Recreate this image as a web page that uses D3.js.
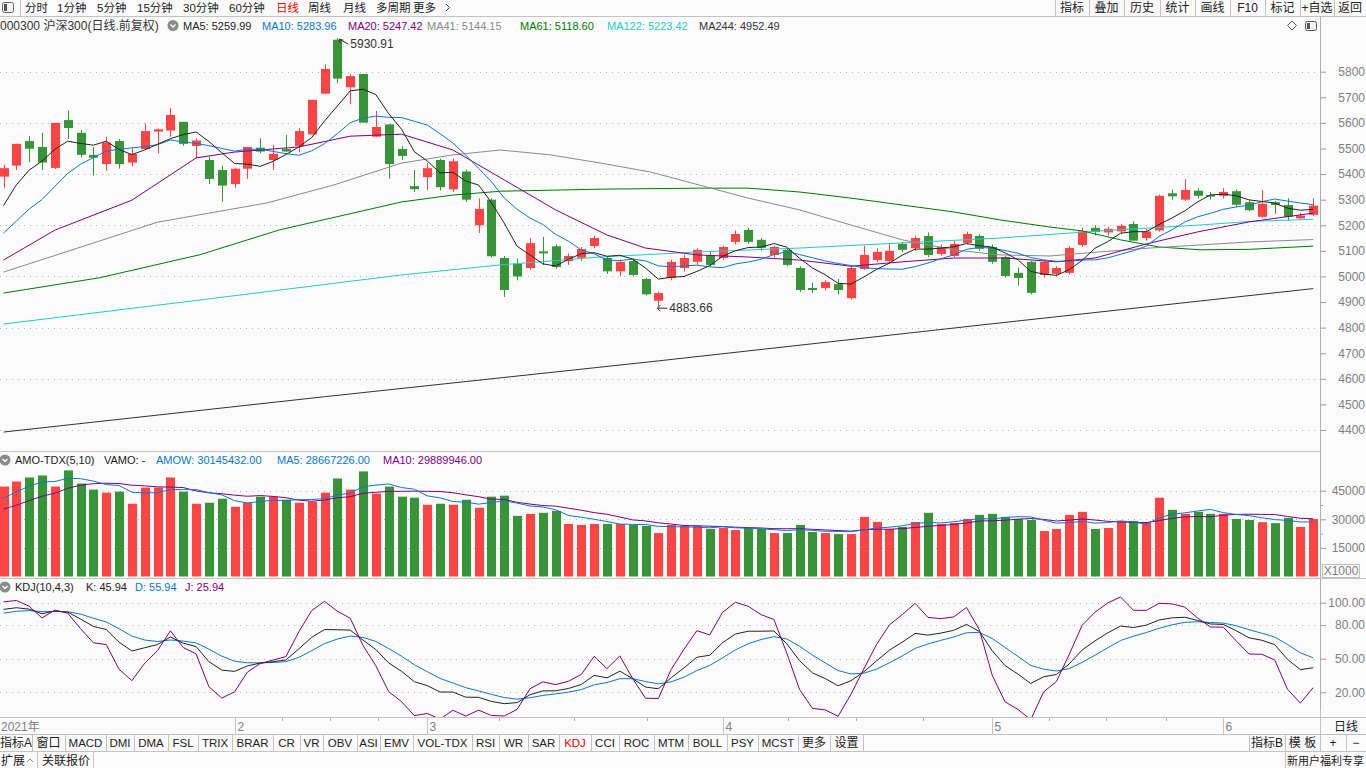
<!DOCTYPE html>
<html>
<head>
<meta charset="utf-8">
<script src="https://cdn.jsdelivr.net/npm/d3@7"></script>
<style>
body { margin: 0; background: #fbfbfb; overflow: hidden; }
svg text { font-family: "Liberation Sans", "Noto Sans CJK SC", sans-serif; font-size: 12px; }
</style>
</head>
<body>
<svg id="chart" width="1366" height="768"></svg>
<script>
// daily bars, 2021-01-06 .. 2021-06-10
var opens  = [5390,5433,5529,5506,5424,5611,5561,5475,5439,5529,5445,5498,5566,5570,5604,5510,5455,5416,5361,5421,
              5503,5455,5498,5510,5555,5714,5925,5739,5791,5546,5594,5498,5353,5388,5455,5340,5410,5200,5300,5072,
              5050,5033,5098,5118,5060,5073,5119,5072,5020,5060,4990,4905,4994,5033,5057,5084,5072,5135,5182,5143,
              5084,5104,5033,4955,4955,4970,4915,5029,5064,5060,5127,5110,5158,5088,5080,5131,5158,5115,5076,5014,
              5057,5006,5010,5014,5123,5190,5172,5176,5205,5150,5180,5325,5300,5335,5318,5315,5333,5290,5233,5290,
              5279,5227,5241];
var highs  = [5436,5518,5549,5561,5600,5648,5572,5505,5546,5537,5501,5597,5578,5658,5604,5540,5468,5433,5425,5506,
              5540,5514,5553,5579,5690,5828,5930.91,5791,5791,5647,5594,5509,5416,5443,5460,5460,5418,5305,5305,5080,
              5070,5150,5155,5125,5090,5115,5160,5080,5065,5070,4995,4940,5065,5085,5110,5095,5120,5180,5190,5150,
              5120,5110,5040,4975,4985,4990,5040,5120,5110,5130,5135,5160,5172,5125,5140,5175,5165,5125,5080,5035,
              5060,5065,5040,5118,5190,5200,5195,5205,5215,5185,5320,5340,5380,5345,5330,5345,5340,5297,5337,5295,
              5305,5248,5305];
var lows   = [5347,5416,5447,5416,5420,5537,5464,5394,5413,5421,5429,5498,5481,5546,5510,5462,5361,5292,5347,5382,
              5481,5416,5486,5484,5555,5714,5755,5673,5601,5546,5382,5455,5330,5337,5336,5330,5290,5170,5075,4920,
              4985,5025,5045,5030,5045,5060,5110,5010,5000,5000,4925,4883.66,4985,5020,5045,5040,5065,5125,5128,5100,
              5075,5040,4940,4935,4945,4930,4910,5025,5055,5055,5095,5100,5075,5080,5075,5125,5100,5050,4995,4965,
              4930,4995,4998,5008,5115,5160,5160,5165,5140,5140,5175,5300,5295,5305,5300,5305,5270,5255,5230,5245,
              5217,5223,5236];
var closes = [5423,5518,5499,5445,5600,5580,5475,5464,5523,5439,5479,5568,5575,5631,5518,5531,5381,5355,5421,5506,
              5488,5479,5488,5568,5690,5811,5773,5783,5601,5584,5439,5471,5341,5423,5349,5450,5300,5264,5079,4947,
              5000,5130,5090,5037,5080,5107,5150,5020,5057,5006,4930,4935,5057,5072,5104,5045,5115,5166,5135,5112,
              5115,5045,4947,4947,4978,4947,5033,5084,5096,5100,5104,5150,5084,5115,5127,5166,5108,5057,5002,4994,
              4936,5057,5033,5111,5176,5174,5186,5198,5140,5176,5315,5313,5338,5315,5312,5330,5280,5259,5284,5279,
              5233,5238,5277];
// turnover, x1000 yuan
var amounts = [47170,49820,51940,53000,47170,55650,48760,45580,43990,44520,38160,46640,46640,51940,44520,38160,38690,40810,36570,38690,
               41870,41870,40280,38690,39220,43990,51410,45580,55120,43460,47170,41870,41340,37630,38160,37630,40280,36040,41870,42400,
               31800,32860,33390,34450,27560,27030,27560,27560,27560,27030,26500,22790,27030,26500,26500,24910,25440,24380,25440,24910,
               22790,22790,27030,23320,22790,22260,22260,31270,28620,24910,25970,28620,33390,27560,28090,30210,32330,32860,31270,30210,
               29680,23850,24910,32330,33920,24910,25440,29150,29150,28620,41340,34980,32860,33920,32860,32860,30210,29680,28500,27980,
               30740,25970,30145];

// the nine sessions before the first visible one (for MA5/MA10/KDJ windows)
var priorCloses  = [5044,5031,5072,5086,5073,5114,5211,5268,5369];
var priorHighs   = [5060,5050,5080,5110,5095,5115,5215,5285,5370];
var priorLows    = [4985,5000,5030,5060,5040,5060,5120,5200,5260];
var priorAmounts = [29000,28000,30000,31000,30000,33000,37000,42000,46000];
var kdjStart = [93, 89];   // K, D carried in from the day before

// longer averages: [bar index, value]
var ma20Pts  = [[0,5064],[4,5181],[10,5298],[15,5463],[18,5486],[23,5506],[27,5548],[31,5556],[35,5494],[39,5377],[43,5260],[47,5162],[50,5111],[54,5084],[58,5076],[62,5064],[66,5040],[70,5057],[74,5072],[78,5072],[82,5057],[85,5072],[89,5127],[93,5174],[97,5213],[102,5247.42]];
var ma41Pts  = [[0,5017],[12,5212],[20.5,5287],[25.7,5357],[31,5443],[35,5475],[38.7,5494],[42.6,5475],[46.5,5443],[50.4,5408],[54.2,5357],[58,5306],[62,5260],[66,5201],[70,5143],[74,5104],[77.6,5084],[81.5,5080],[85.4,5096],[89.3,5111],[93.2,5123],[97.1,5135],[102,5144.15]];
var ma61Pts  = [[0,4935],[7.5,4995],[15.3,5085],[21.5,5182],[31,5291],[35,5318],[38.7,5333],[46.5,5341],[54.2,5345],[58,5345],[62,5330],[66,5306],[70,5279],[74,5252],[77.6,5221],[81.5,5193],[84,5178],[87,5143],[90,5115],[93.2,5104],[97.1,5106],[102,5118.60]];
var ma122Pts = [[0,4814],[15.3,4908],[31,5006],[38.7,5045],[46.5,5076],[54.2,5096],[62,5111],[70,5131],[77.6,5150],[85.4,5178],[93.2,5201],[97.1,5215],[102,5223.42]];
var ma244Pts = [[0,4392],[25,4530],[51,4670],[77,4815],[102,4952.49]];

var monthIdx    = [0, 18, 33, 56, 77, 95];
var monthLabels = ["2021年", "2", "3", "4", "5", "6"];
var minorIdx    = [21.7, 25.4, 29.2, 38.6, 44.4, 50.1, 61.1, 66.4, 71.6, 81.4, 85.9, 90.5];

var maNames  = ["MA5", "MA10", "MA20", "MA41", "MA61", "MA122", "MA244"];
var maLast   = ["5259.99", "5283.96", "5247.42", "5144.15", "5118.60", "5223.42", "4952.49"];
var maColors = ["#222222", "#0a78d2", "#800080", "#8a8a8a", "#007a00", "#22cccc", "#333333"];
var maLegendX = [183, 262, 348, 427, 520, 607, 699];

var topTabs  = ["分时", "1分钟", "5分钟", "15分钟", "30分钟", "60分钟", "日线", "周线", "月线", "多周期", "更多"];
var topTabX  = [25, 57, 97, 137, 183, 229, 276, 308, 343, 376, 413];
var rightBtns = ["指标", "叠加", "历史", "统计", "画线", "F10", "标记", "+自选", "返回"];
var rightBtnEdges = [1055, 1089, 1124, 1160, 1195, 1230, 1265, 1300, 1334, 1366];
var bottomBtns = ["指标A", "窗口", "MACD", "DMI", "DMA", "FSL", "TRIX", "BRAR", "CR", "VR", "OBV", "ASI", "EMV", "VOL-TDX",
                  "RSI", "WR", "SAR", "KDJ", "CCI", "ROC", "MTM", "BOLL", "PSY", "MCST", "更多", "设置"];
var bottomEdges = [0, 32, 65, 106, 134, 168, 198, 232, 273, 300, 323, 357, 380, 413, 472, 499, 528, 559, 591, 619, 654, 688, 727, 758, 798, 830, 863];

var RED = "#fd4444", GREEN = "#389438", GRID = "#b4b4b4", LINE = "#c3c3c3", AXT = "#7f7f7f";

var svg = d3.select("#chart");
svg.append("rect").attr("width", 1366).attr("height", 768).attr("fill", "#fbfbfb");

var n = closes.length;
var x = d3.scaleLinear().domain([0, n - 1]).range([3.5, 1313.2]);
var yP = d3.scaleLinear().domain([4400, 5800]).range([430, 71.7]);
var yV = d3.scaleLinear().domain([0, 45000]).range([576.5, 490.7]);
var yK = d3.scaleLinear().domain([20, 100]).range([692.3, 602.7]);

var defs = svg.append("defs");
defs.append("clipPath").attr("id", "cp").append("rect").attr("x", 0).attr("y", 17).attr("width", 1320).attr("height", 433);
defs.append("clipPath").attr("id", "cv").append("rect").attr("x", 0).attr("y", 466).attr("width", 1320).attr("height", 112);
defs.append("clipPath").attr("id", "ck").append("rect").attr("x", 0).attr("y", 593).attr("width", 1320).attr("height", 124);

function hline(y, x1, x2, col) {
  svg.append("line").attr("x1", x1).attr("x2", x2).attr("y1", y).attr("y2", y)
    .attr("stroke", col || LINE).attr("shape-rendering", "crispEdges");
}
function vline(xx, y1, y2, col) {
  svg.append("line").attr("x1", xx).attr("x2", xx).attr("y1", y1).attr("y2", y2)
    .attr("stroke", col || LINE).attr("shape-rendering", "crispEdges");
}
function txt(xx, y, s, col, anchor, size) {
  return svg.append("text").attr("x", xx).attr("y", y).attr("fill", col || "#333")
    .attr("text-anchor", anchor || "start").style("font-size", (size || 12) + "px").text(s);
}

// ---------- grid + axes ----------
function dotted(yv) {
  svg.append("line").attr("x1", 0).attr("x2", 1320).attr("y1", Math.round(yv) + 0.5).attr("y2", Math.round(yv) + 0.5)
    .attr("stroke", GRID).attr("stroke-dasharray", "1,5");
}
d3.range(4400, 5801, 200).forEach(function(v) { dotted(yP(v)); });
[15000, 30000, 45000].forEach(function(v) { dotted(yV(v)); });
[20, 50, 80, 100].forEach(function(v) { dotted(yK(v)); });

function styleAxis(g) {
  g.select(".domain").remove();
  g.selectAll(".tick line").attr("stroke", "#9a9a9a");
  g.selectAll(".tick text").attr("fill", AXT).attr("text-anchor", "end").attr("x", 45)
    .style("font-size", "12px").style("font-family", "Liberation Sans, sans-serif");
}
svg.append("g").attr("transform", "translate(1320,0)")
  .call(d3.axisRight(yP).tickValues(d3.range(4400, 5801, 100)).tickSize(6).tickFormat(d3.format("d")))
  .call(styleAxis);
svg.append("g").attr("transform", "translate(1320,0)")
  .call(d3.axisRight(yV).tickValues([15000, 30000, 45000]).tickSize(6).tickFormat(d3.format("d")))
  .call(styleAxis);
svg.append("g").attr("transform", "translate(1320,0)")
  .call(d3.axisRight(yV).tickValues([22500, 37500]).tickSize(3).tickFormat(""))
  .call(styleAxis);
svg.append("g").attr("transform", "translate(1320,0)")
  .call(d3.axisRight(yK).tickValues([20, 50, 80, 100]).tickSize(6).tickFormat(d3.format(".2f")))
  .call(styleAxis);

// ---------- candles ----------
var gc = svg.append("g").attr("clip-path", "url(#cp)");
d3.range(n).forEach(function(i) {
  var up = closes[i] >= opens[i], col = up ? RED : GREEN;
  var cx = Math.round(x(i)) + 0.5;
  gc.append("line").attr("x1", cx).attr("x2", cx).attr("y1", yP(highs[i])).attr("y2", yP(lows[i]))
    .attr("stroke", col);
  var top = yP(Math.max(opens[i], closes[i])), bot = yP(Math.min(opens[i], closes[i]));
  gc.append("rect").attr("x", Math.round(x(i)) - 4).attr("y", top).attr("width", 9)
    .attr("height", Math.max(1, bot - top)).attr("fill", col);
});

// moving averages
function rolling(prior, vals, k) {
  var all = prior.concat(vals), off = prior.length;
  return vals.map(function(v, i) {
    var j = i + off;
    return j - k + 1 < 0 ? null : d3.mean(all.slice(j - k + 1, j + 1));
  });
}
var line = d3.line().defined(function(d) { return d[1] != null; })
  .x(function(d) { return x(d[0]); });
function drawLine(g, pts, yS, col) {
  g.append("path").datum(pts).attr("fill", "none").attr("stroke", col).attr("stroke-width", 1)
    .attr("d", line.y(function(d) { return yS(d[1]); }));
}
var ma5 = rolling(priorCloses, closes, 5), ma10 = rolling(priorCloses, closes, 10);
drawLine(gc, ma244Pts, yP, maColors[6]);
drawLine(gc, ma122Pts, yP, maColors[5]);
drawLine(gc, ma61Pts, yP, maColors[4]);
drawLine(gc, ma41Pts, yP, maColors[3]);
drawLine(gc, ma20Pts, yP, maColors[2]);
drawLine(gc, ma10.map(function(v, i) { return [i, v]; }), yP, maColors[1]);
drawLine(gc, ma5.map(function(v, i) { return [i, v]; }), yP, maColors[0]);

// high / low marks
var hiI = d3.maxIndex(highs), loI = d3.minIndex(lows);
var hx = x(hiI) + 2, hy = yP(highs[hiI]) + 1;
svg.append("path").attr("d", "M" + hx + "," + hy + "l4,1 M" + hx + "," + hy + "l1,4 M" + hx + "," + hy + "l9,5")
  .attr("stroke", "#333").attr("fill", "none");
txt(x(hiI) + 13, yP(highs[hiI]) + 10, d3.format(".2f")(highs[hiI]), "#333");
var lx = x(loI) - 1, ly = yP(lows[loI]) + 2;
svg.append("path").attr("d", "M" + lx + "," + ly + "h10 M" + lx + "," + ly + "l3,-3 M" + lx + "," + ly + "l3,3")
  .attr("stroke", "#333").attr("fill", "none");
txt(x(loI) + 11, ly + 4, d3.format(".2f")(lows[loI]), "#333");

// ---------- turnover ----------
var gv = svg.append("g").attr("clip-path", "url(#cv)");
d3.range(n).forEach(function(i) {
  var col = closes[i] >= opens[i] ? RED : GREEN;
  gv.append("rect").attr("x", Math.round(x(i)) - 4).attr("y", yV(amounts[i])).attr("width", 9)
    .attr("height", yV(0) - yV(amounts[i])).attr("fill", col);
});
var vma5 = rolling(priorAmounts, amounts, 5), vma10 = rolling(priorAmounts, amounts, 10);
drawLine(gv, vma10.map(function(v, i) { return [i, v]; }), yV, "#800080");
drawLine(gv, vma5.map(function(v, i) { return [i, v]; }), yV, "#0a78d2");

// ---------- KDJ(10,4,3) ----------
var allH = priorHighs.concat(highs), allL = priorLows.concat(lows), off = priorHighs.length;
var K = kdjStart[0], D = kdjStart[1], kd = [];
d3.range(n).forEach(function(i) {
  var j = i + off;
  var hh = d3.max(allH.slice(j - 9, j + 1)), ll = d3.min(allL.slice(j - 9, j + 1));
  var rsv = (closes[i] - ll) / (hh - ll) * 100;
  K = (rsv + 3 * K) / 4;
  D = (K + 2 * D) / 3;
  kd.push({ i: i, k: K, d: D, j: 3 * K - 2 * D });
});
var gk = svg.append("g").attr("clip-path", "url(#ck)");
drawLine(gk, kd.map(function(d) { return [d.i, d.d]; }), yK, "#0a78d2");
drawLine(gk, kd.map(function(d) { return [d.i, d.k]; }), yK, "#222222");
drawLine(gk, kd.map(function(d) { return [d.i, d.j]; }), yK, "#800080");

// ---------- frame lines ----------
hline(16.5, 0, 1366);
vline(20.5, 0, 16);
rightBtnEdges.slice(0, -1).forEach(function(e) { vline(e + 0.5, 0, 16); });
hline(451.5, 0, 1320);
hline(578.5, 0, 1366);
hline(717.5, 0, 1366);
hline(734.5, 0, 1366);
hline(751.5, 0, 1366);
vline(1320.5, 16, 734, "#b0b0b0");

// ---------- top toolbar ----------
svg.append("rect").attr("x", 2.5).attr("y", 2.5).attr("width", 11).attr("height", 10).attr("rx", 2)
  .attr("fill", "#f4f4f4").attr("stroke", "#666");
svg.append("rect").attr("x", 4).attr("y", 4).attr("width", 3).attr("height", 7).attr("fill", "#555");
topTabs.forEach(function(s, i) {
  txt(topTabX[i], 12, s, s === "日线" ? "#ff0000" : "#222", "start", 11.5);
});
svg.append("path").attr("d", "M446,4 l3.5,3.5 l-3.5,3.5").attr("fill", "none").attr("stroke", "#444");
rightBtns.forEach(function(s, i) {
  txt((rightBtnEdges[i] + rightBtnEdges[i + 1]) / 2, 12, s, "#222", "middle", 12);
});

// ---------- legends ----------
txt(0, 30, "000300 沪深300(日线.前复权)", "#333");
function chevron(cx, cy) {
  svg.append("circle").attr("cx", cx).attr("cy", cy).attr("r", 5.5).attr("fill", "#8a8a8a");
  svg.append("path").attr("d", "M" + (cx - 2.5) + "," + (cy - 1) + " l2.5,2.5 l2.5,-2.5")
    .attr("fill", "none").attr("stroke", "#fff").attr("stroke-width", 1.3);
}
chevron(173, 25.5);
maNames.forEach(function(nm, i) {
  txt(maLegendX[i], 30, nm + ": " + maLast[i], maColors[i], "start", 11);
});
svg.append("path").attr("d", "M1292,21 l4.5,4.5 l-4.5,4.5 l-4.5,-4.5 z").attr("fill", "none").attr("stroke", "#555");
svg.append("rect").attr("x", 1305.5).attr("y", 21.5).attr("width", 11).attr("height", 9).attr("rx", 2)
  .attr("fill", "#f4f4f4").attr("stroke", "#555");
svg.append("rect").attr("x", 1307).attr("y", 23).attr("width", 3).attr("height", 6).attr("fill", "#555");

chevron(5, 460);
txt(15, 464, "AMO-TDX(5,10)", "#222", "start", 11);
txt(104, 464, "VAMO: -", "#222", "start", 11);
txt(156, 464, "AMOW: 30145432.00", "#0a78d2", "start", 11);
txt(277, 464, "MA5: 28667226.00", "#0a78d2", "start", 11);
txt(383, 464, "MA10: 29889946.00", "#800080", "start", 11);
svg.append("rect").attr("x", 1322.5).attr("y", 564.5).attr("width", 37).attr("height", 13)
  .attr("fill", "#fbfbfb").attr("stroke", "#c0c0c0");
txt(1341, 575, "X1000", AXT, "middle", 12);

chevron(5, 587);
txt(15, 591, "KDJ(10,4,3)", "#222", "start", 11);
txt(86, 591, "K: 45.94", "#222", "start", 11);
txt(135, 591, "D: 55.94", "#0a78d2", "start", 11);
txt(185, 591, "J: 25.94", "#800080", "start", 11);

// ---------- x axis ----------
monthIdx.forEach(function(mi, i) {
  var xx = Math.round(x(mi)) + 0.5;
  if (i > 0) vline(xx, 718, 734);
  txt(i === 0 ? 1 : xx + 2, 731, monthLabels[i], AXT);
});
minorIdx.forEach(function(mi) { vline(Math.round(x(mi)) + 0.5, 718, 721, "#b0b0b0"); });
vline(1320.5, 710, 734);
txt(1346, 731, "日线", "#222", "middle");

// ---------- bottom toolbars ----------
bottomBtns.forEach(function(s, i) {
  var a = bottomEdges[i], b = bottomEdges[i + 1];
  txt((a + b) / 2, 747, s, s === "KDJ" ? "#ff0000" : "#222", "middle", /^[A-Z\-]+$/.test(s) ? 11.5 : 12);
  vline(b + 0.5, 734, 751);
});
[[1249, 1285, "指标B"], [1285, 1320, "模 板"], [1320, 1346, "+"], [1346, 1366, "−"]].forEach(function(b) {
  vline(b[0] + 0.5, 734, 751);
  txt((b[0] + b[1]) / 2, 747, b[2], "#222", "middle");
});
txt(1, 765, "扩展", "#222");
svg.append("path").attr("d", "M27,762 l3,-3 l3,3").attr("fill", "none").attr("stroke", "#888");
vline(37.5, 751, 768);
txt(42, 765, "关联报价", "#222");
vline(93.5, 751, 768);
vline(1285.5, 751, 768);
txt(1287, 765, "新用户福利专享", "#222", "start", 11);
</script>
</body>
</html>
